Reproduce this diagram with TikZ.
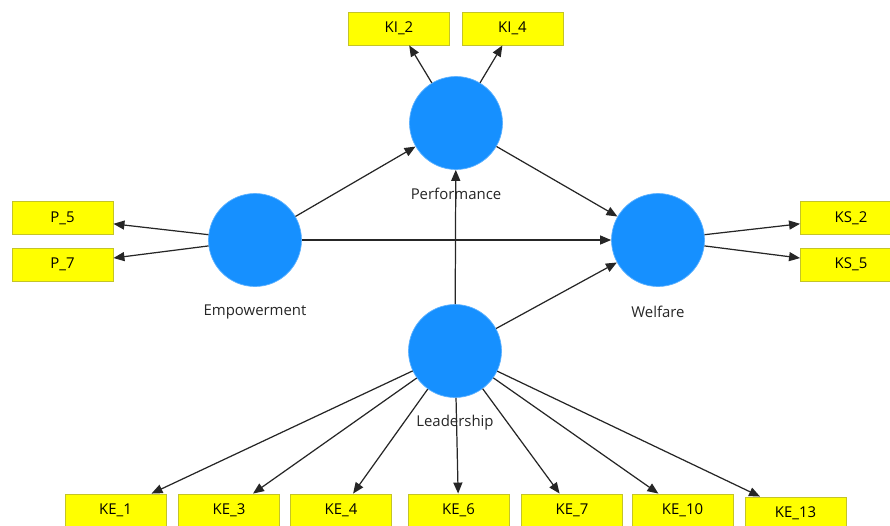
\documentclass[tikz,border=0pt]{standalone}
\usepackage{fontspec}
\setmainfont{Open Sans}
\usetikzlibrary{arrows.meta}
\definecolor{lvblue}{RGB}{22,144,255}
\definecolor{indyellow}{RGB}{255,255,0}
\definecolor{indborder}{RGB}{196,196,40}
\tikzset{
  ind/.style    = {rectangle, draw=indborder, fill=indyellow, line width=0.5pt,
                   minimum width=2.02cm, minimum height=0.66cm, inner sep=0pt,
                   font=\fontsize{8.5}{10}\selectfont},
  lv/.style     = {circle, fill=lvblue, draw=lvblue!70!white, line width=0.4pt,
                   minimum size=1.86cm, inner sep=0pt},
  lvname/.style = {inner sep=0pt, text=black!85, font=\fontsize{8.5}{10}\selectfont},
  flow/.style   = {-{Triangle[length=2.2mm, width=1.8mm]}, line width=0.7pt, black!85},
}
\begin{document}
\begin{tikzpicture}[x=0.02cm, y=-0.02cm]
    \useasboundingbox (0,0) rectangle (890,525);
    % latent variables
    \node[lv] (perf) at (456,123) {};
    \node[lv] (emp)  at (255,240) {};
    \node[lv] (welf) at (658,240) {};
    \node[lv] (lead) at (455,351) {};
    \node[lvname] (perfname) at (456,194) {Performance};
    \node[lvname] (empname)  at (255,312) {Empowerment};
    \node[lvname] (welfname) at (658,312) {Welfare};
    \node[lvname] (leadname) at (455,423) {Leadership};
    % indicators
    \node[ind] (ki2)  at (399,28.5)  {KI\_2};
    \node[ind] (ki4)  at (512.5,28.5) {KI\_4};
    \node[ind] (p5)   at (62.5,218)  {P\_5};
    \node[ind] (p7)   at (62.5,264.5) {P\_7};
    \node[ind] (ks2)  at (851,218)   {KS\_2};
    \node[ind] (ks5)  at (851,264.5) {KS\_5};
    \node[ind] (ke1)  at (115.5,510.5) {KE\_1};
    \node[ind] (ke3)  at (229,510.5)   {KE\_3};
    \node[ind] (ke4)  at (341,510.5)   {KE\_4};
    \node[ind] (ke6)  at (458.5,510.5) {KE\_6};
    \node[ind] (ke7)  at (572,510.5)   {KE\_7};
    \node[ind] (ke10) at (682.5,510.5) {KE\_10};
    \node[ind] (ke13) at (795.5,513.5) {KE\_13};
    % structural paths
    \draw[flow] (emp) -- (perf);
    \draw[flow] (emp) -- (welf);
    \draw[flow] (perf) -- (welf);
    \draw[flow] (lead) -- (perf);
    \draw[flow] (lead) -- (welf);
    % loadings
    \draw[flow] (perf) -- (ki2);
    \draw[flow] (perf) -- (ki4);
    \draw[flow] (emp) -- (p5);
    \draw[flow] (emp) -- (p7);
    \draw[flow] (welf) -- (ks2);
    \draw[flow] (welf) -- (ks5);
    \draw[flow] (lead) -- (ke1);
    \draw[flow] (lead) -- (ke3);
    \draw[flow] (lead) -- (ke4);
    \draw[flow] (lead) -- (ke6);
    \draw[flow] (lead) -- (ke7);
    \draw[flow] (lead) -- (ke10);
    \draw[flow] (lead) -- (ke13);
\end{tikzpicture}
\end{document}
